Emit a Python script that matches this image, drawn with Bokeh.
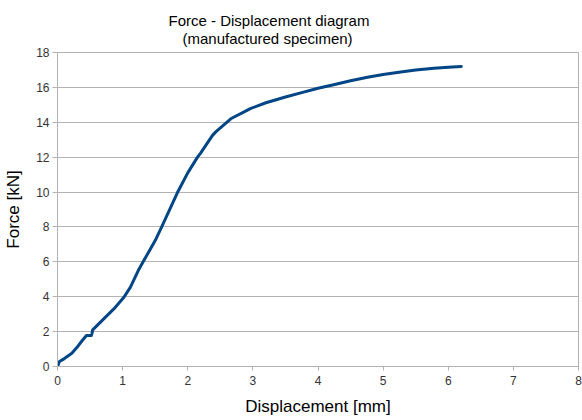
from bokeh.plotting import figure
from bokeh.models import Title, Range1d, FixedTicker
from bokeh.embed import file_html
from bokeh.resources import INLINE

# Displacement [mm] and Force [kN]
displacement = [0.0, 0.03, 0.10, 0.22, 0.30, 0.38, 0.445, 0.52, 0.53, 0.54, 0.66, 0.865, 1.02,
                1.12, 1.24, 1.33, 1.5, 1.6, 1.84, 2.0, 2.15, 2.2, 2.38, 2.43, 2.63, 2.66,
                2.91, 2.96, 3.2, 3.5, 3.75, 4.0, 4.24, 4.5, 4.76, 5.0, 5.27, 5.5, 5.78, 6.0, 6.2]
force = [0.0, 0.29, 0.44, 0.76, 1.1, 1.49, 1.78, 1.78, 1.9, 2.1, 2.54, 3.3, 3.97,
         4.55, 5.5, 6.1, 7.22, 8.0, 9.96, 11.1, 12.0, 12.25, 13.25, 13.45, 14.1, 14.2,
         14.68, 14.78, 15.12, 15.45, 15.7, 15.95, 16.15, 16.38, 16.58, 16.74, 16.88, 17.0, 17.1, 17.16, 17.2]

x_ticks = [0, 1, 2, 3, 4, 5, 6, 7, 8]
y_ticks = [0, 2, 4, 6, 8, 10, 12, 14, 16, 18]

title_line1 = "Force - Displacement diagram"
title_line2 = " (manufactured specimen)"
x_label = "Displacement [mm]"
y_label = "Force [kN]"

FONT = "Liberation Sans"
GRID = "#b3b3b3"
LINE = "#004586"

p = figure(frame_width=521, frame_height=314, output_backend="svg", toolbar_location=None,
           x_range=Range1d(0, 8), y_range=Range1d(0, 18),
           min_border_left=57, min_border_right=4, min_border_top=52, min_border_bottom=54)
p.title.text = ""
p.title.visible = False

t2 = Title(text=title_line2, align="left", offset=125, standoff=11,
           text_font=FONT, text_font_size="15px", text_font_style="normal", text_color="#000000")
t1 = Title(text=title_line1, align="left", offset=111, standoff=-12,
           text_font=FONT, text_font_size="15px", text_font_style="normal", text_color="#000000")
p.add_layout(t2, "above")
p.add_layout(t1, "above")

p.line(displacement, force, line_width=3, line_color=LINE, line_join="round", line_cap="round")

p.outline_line_color = GRID
p.outline_line_width = 1
p.background_fill_color = "white"
p.border_fill_color = "white"

p.xgrid.grid_line_color = None
p.ygrid.grid_line_color = GRID
p.ygrid.ticker = FixedTicker(ticks=y_ticks)

p.xaxis.ticker = FixedTicker(ticks=x_ticks)
p.yaxis.ticker = FixedTicker(ticks=y_ticks)
for ax in (p.xaxis[0], p.yaxis[0]):
    ax.axis_line_color = GRID
    ax.major_tick_line_color = GRID
    ax.minor_tick_line_color = None
    ax.major_tick_in = 0
    ax.major_tick_out = 5
    ax.major_label_text_font = FONT
    ax.major_label_text_font_size = "12px"
    ax.major_label_text_color = "#333333"
    ax.axis_label_text_font = FONT
    ax.axis_label_text_font_size = "17px"
    ax.axis_label_text_font_style = "normal"
    ax.axis_label_text_color = "#000000"

p.xaxis.axis_label = x_label
p.yaxis.axis_label = y_label
p.xaxis.major_tick_out = 4
p.xaxis.major_label_standoff = 5
p.xaxis.axis_label_standoff = 9
p.yaxis.major_label_standoff = 3
p.yaxis.axis_label_standoff = 10

open("out.html", "w").write(file_html(p, INLINE))
